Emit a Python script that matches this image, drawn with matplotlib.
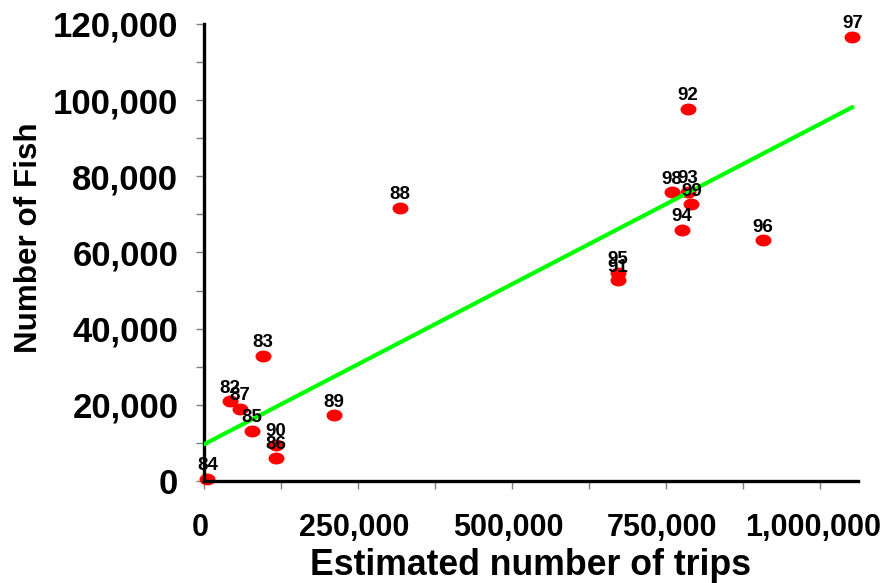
import numpy as np
import matplotlib
matplotlib.use("Agg")
import matplotlib.pyplot as plt
from matplotlib.path import Path
from matplotlib.ticker import MultipleLocator, FuncFormatter
from matplotlib.transforms import ScaledTranslation

plt.rcParams['font.family'] = ['Liberation Sans', 'DejaVu Sans']
plt.rcParams['font.weight'] = 'bold'

years = ['82', '83', '84', '85', '86', '87', '88', '89', '90',
         '91', '92', '93', '94', '95', '96', '97', '98', '99']
trips = [42200, 96300, 5400, 77400, 116900, 58400, 318000, 211500, 116900,
         671600, 786200, 785200, 775400, 672600, 907500, 1053000, 759200, 791400]
fish = [20900, 32900, 500, 13200, 6100, 18900, 71800, 17300, 9500,
        52700, 97800, 75900, 66000, 54700, 63200, 116700, 75800, 72700]

x = np.array(trips, dtype=float)
y = np.array(fish, dtype=float)

fig = plt.figure(figsize=(8.88, 5.83), dpi=100)
ax = fig.add_axes([204/888, 1-481/583, (858-204)/888, (481-24)/583])

# ellipse marker
circ = Path.unit_circle()
ell = Path(circ.vertices * np.array([1.0, 0.72]), circ.codes)

ax.plot(x, y, linestyle='none', marker=ell, markersize=10.5,
        markerfacecolor='#FF0000', markeredgecolor='#FF0000', zorder=2, clip_on=False)

# linear trend line
m, b = np.polyfit(x, y, 1)
xl = np.array([0, x.max()])
ax.plot(xl, m*xl + b, color='#00FF00', linewidth=3.0, zorder=3, solid_capstyle='round')

for lab, xi, yi in zip(years, x, y):
    ax.annotate(lab, (xi, yi), xytext=(0, 6.2), textcoords='offset points',
                ha='center', va='baseline', fontsize=13.5, fontweight='bold',
                color='black', zorder=4, annotation_clip=False)

ax.set_xlim(0, 1062000)
ax.set_ylim(0, 120000)

ax.xaxis.set_major_locator(MultipleLocator(250000))
ax.xaxis.set_minor_locator(MultipleLocator(125000))
ax.yaxis.set_major_locator(MultipleLocator(20000))
ax.yaxis.set_minor_locator(MultipleLocator(10000))
fmt = FuncFormatter(lambda v, p: f"{int(round(v)):,}")
ax.xaxis.set_major_formatter(fmt)
ax.yaxis.set_major_formatter(fmt)

for s in ['top', 'right']:
    ax.spines[s].set_visible(False)
for s in ['left', 'bottom']:
    ax.spines[s].set_linewidth(2.4)
    ax.spines[s].set_color('black')

ax.tick_params(axis='both', which='both', direction='out', color='#808080',
               length=6, width=1)
ax.tick_params(axis='x', which='major', labelsize=22, pad=17)
ax.tick_params(axis='y', which='major', labelsize=25, pad=12.5)

ax.set_xlabel('Estimated number of trips', fontsize=25.7, fontweight='bold', labelpad=3.5)
ax.set_ylabel('Number of Fish', fontsize=22.6, fontweight='bold')
ax.yaxis.set_label_coords(-0.245, 0.532)

fig.canvas.draw()
ticks = ax.xaxis.get_major_ticks()
for t in ticks:
    lbl = t.label1
    dx = -4/100
    if lbl.get_text() == '1,000,000':
        dx = -7/100
    lbl.set_transform(lbl.get_transform() + ScaledTranslation(dx, 0, fig.dpi_scale_trans))
for t in ax.get_xticklabels() + ax.get_yticklabels():
    t.set_fontweight('bold')

fig.savefig('out.png', dpi=100)
